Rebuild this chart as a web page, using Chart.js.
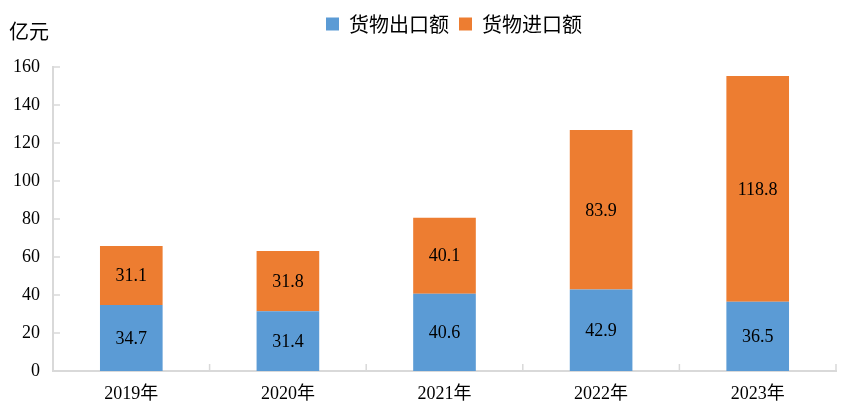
<!DOCTYPE html>
<html>
<head>
<meta charset="utf-8">
<title>货物进出口额</title>
<script src="https://cdn.jsdelivr.net/npm/chart.js@4"></script>
<style>
  html, body { margin: 0; padding: 0; background: #fff; }
  #holder { width: 852px; height: 411px; }
</style>
</head>
<body>
<div id="holder"><canvas id="chart" width="852" height="411"></canvas></div>
<script>
var years = ['2019年', '2020年', '2021年', '2022年', '2023年'];
var exportVals = [34.7, 31.4, 40.6, 42.9, 36.5];
var importVals = [31.1, 31.8, 40.1, 83.9, 118.8];
var yTicks = [0, 20, 40, 60, 80, 100, 120, 140, 160];

var serif = '"Liberation Serif", "Times New Roman", "Noto Sans CJK SC", serif';
var axisGray = '#D9D9D9';

// push the plot down below the legend so 160 lands where it should,
// and nudge the legend a bit right like the original
var legendGap = {
  id: 'legendGap',
  beforeInit: function(chart) {
    var fit = chart.legend.fit;
    chart.legend.fit = function() {
      fit.call(this);
      this.height = 63;
    };
  },
  afterLayout: function(chart) {
    chart.legend.left += 36;
    chart.legend.right += 36;
  }
};

// numbers in the middle of each bar segment, ticks pointing inward, unit label
var extras = {
  id: 'extras',
  afterDatasetsDraw: function(chart) {
    var ctx = chart.ctx;
    ctx.save();
    ctx.fillStyle = '#000';
    ctx.font = '18px ' + serif;
    ctx.textAlign = 'center';
    ctx.textBaseline = 'middle';
    chart.data.datasets.forEach(function(ds, i) {
      chart.getDatasetMeta(i).data.forEach(function(bar, j) {
        var p = bar.getProps(['x', 'y', 'base'], true);
        ctx.fillText(ds.data[j].toFixed(1), p.x, (p.y + p.base) / 2 + 1);
      });
    });

    var area = chart.chartArea;
    var ys = chart.scales.y;
    ctx.strokeStyle = axisGray;
    ctx.lineWidth = 1.5;
    ctx.beginPath();
    yTicks.forEach(function(v) {
      var py = ys.getPixelForValue(v);
      ctx.moveTo(area.left, py);
      ctx.lineTo(area.left + 7, py);
    });
    var step = (area.right - area.left) / years.length;
    for (var k = 0; k <= years.length; k++) {
      var px = area.left + k * step;
      ctx.moveTo(px, area.bottom);
      ctx.lineTo(px, area.bottom - 7);
    }
    ctx.stroke();

    ctx.fillStyle = '#000';
    ctx.font = '20px "Noto Sans CJK SC", sans-serif';
    ctx.textAlign = 'left';
    ctx.textBaseline = 'middle';
    ctx.fillText('亿元', 9, 31);
    ctx.restore();
  }
};

new Chart(document.getElementById('chart'), {
  type: 'bar',
  data: {
    labels: years,
    datasets: [
      { label: '货物出口额', data: exportVals, backgroundColor: '#5B9BD5' },
      { label: '货物进口额', data: importVals, backgroundColor: '#ED7D31' }
    ]
  },
  options: {
    responsive: false,
    animation: false,
    layout: { padding: { top: 4, right: 16, left: 0, bottom: 0 } },
    datasets: { bar: { categoryPercentage: 1, barPercentage: 0.4 } },
    plugins: {
      legend: {
        position: 'top',
        labels: {
          boxWidth: 13,
          boxHeight: 13,
          padding: 10,
          color: '#000',
          font: { size: 20, family: '"Noto Sans CJK SC", sans-serif' }
        }
      },
      tooltip: { enabled: false }
    },
    scales: {
      x: {
        stacked: true,
        afterFit: function(scale) { scale.height = 40; },
        grid: { display: false, drawTicks: false },
        border: { display: true, color: axisGray, width: 2 },
        ticks: { color: '#000', padding: 12, font: { size: 18, family: serif } }
      },
      y: {
        stacked: true,
        min: 0,
        max: 160,
        afterBuildTicks: function(scale) {
          scale.ticks = yTicks.map(function(v) { return { value: v }; });
        },
        afterFit: function(scale) { scale.width = 53; },
        grid: { display: false, drawTicks: false },
        border: { display: true, color: axisGray, width: 2 },
        ticks: { color: '#000', padding: 13, font: { size: 18, family: serif } }
      }
    }
  },
  plugins: [legendGap, extras]
});
</script>
</body>
</html>
